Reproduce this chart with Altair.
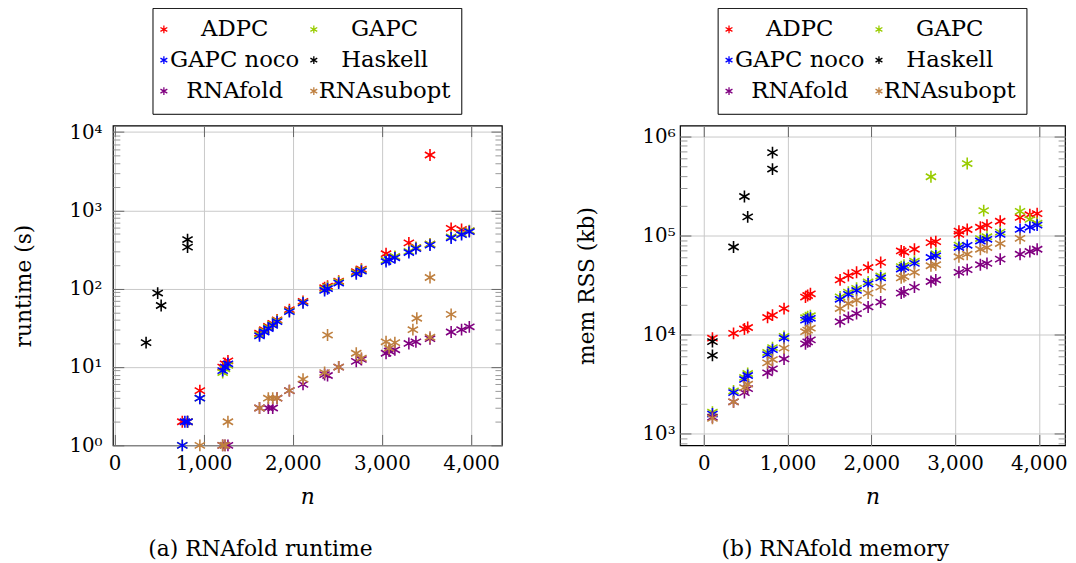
import altair as alt
import pandas as pd

SERIES = ["ADPC", "GAPC", "GAPC noco", "Haskell", "RNAfold", "RNAsubopt"]
COLORS = ["#ff0000", "#99cc00", "#0000ff", "#000000", "#800080", "#bf8040"]

# ---------------- (a) runtime (s) ----------------
rt_adpc_n = [761, 820, 958, 1214, 1240, 1273, 1627, 1680, 1726, 1775, 1824, 1962, 2115, 2357, 2390, 2515,
             2712, 2770, 3046, 3145, 3302, 3381, 3539, 3539, 3776, 3893, 3980]
rt_adpc = [2, 2, 5, 10, 11, 12, 27, 30, 33, 36, 40, 54, 69, 103, 108, 125,
           165, 178, 280, 255, 385, 335, 5100, 370, 590, 570, 548]
rt_gapc_n = [761, 820, 958, 1214, 1240, 1273, 1627, 1680, 1726, 1775, 1824, 1962, 2115, 2357, 2390, 2515,
             2712, 2770, 3046, 3145, 3302, 3381, 3539, 3776, 3893, 3980]
rt_gapc = [1, 2, 4, 8.5, 9.5, 10.5, 26, 29, 32, 35, 39, 52, 67, 98, 104, 122,
           160, 172, 232, 258, 300, 335, 370, 460, 505, 550]
rt_noco_n = [761, 790, 820, 958, 1214, 1240, 1273, 1627, 1680, 1726, 1775, 1824, 1962, 2115, 2357, 2390,
             2515, 2712, 2770, 3046, 3080, 3145, 3302, 3381, 3539, 3776, 3893, 3980]
rt_noco = [1, 2, 2, 4, 9, 10, 11, 25, 28, 31, 34, 38, 51, 66, 95, 100,
           118, 155, 168, 222, 235, 248, 290, 325, 360, 445, 490, 535]
rt_hask_n = [355, 485, 524, 820, 820]
rt_hask = [20.5, 88, 61, 424, 340]
rt_fold_n = [1214, 1240, 1273, 1627, 1726, 1775, 1824, 1962, 2115, 2357, 2390, 2515, 2712, 2770,
             3046, 3080, 3145, 3302, 3381, 3539, 3776, 3893, 3980]
rt_fold = [1, 1, 1, 3, 3, 3, 4, 5, 6, 8, 7.8, 10, 11.8, 12.5,
           15, 16, 16.6, 20, 21, 23, 28, 30, 32.6]
rt_sub_n = [958, 1214, 1240, 1273, 1627, 1726, 1775, 1824, 1962, 2115, 2357, 2390, 2515, 2712, 2770,
            3046, 3080, 3145, 3347, 3391, 3539, 3539, 3776]
rt_sub = [1, 1, 1, 2, 3, 4, 4, 4, 5, 7, 8.5, 25.6, 10, 15, 13,
          21, 17.4, 20.5, 30, 42, 139, 24, 47]

# ---------------- (b) mem RSS (kb) ----------------
mem_adpc_n = [103, 355, 485, 524, 761, 820, 958, 1214, 1240, 1273, 1627, 1726, 1824, 1962, 2112, 2357,
              2390, 2515, 2712, 2770, 3046, 3046, 3145, 3302, 3381, 3539, 3776, 3893, 3980]
mem_adpc = [9200, 10300, 11400, 11800, 14900, 15700, 18300, 23900, 24800, 25800, 35600, 39400, 42500,
            47600, 53500, 69800, 68000, 72600, 84700, 86700, 110700, 102600, 114800, 121000, 127000,
            139000, 152000, 162000, 166000]
mem_gapc_n = [103, 355, 485, 524, 761, 820, 958, 1214, 1240, 1273, 1627, 1726, 1824, 1962, 2112, 2357,
              2390, 2515, 2712, 2770, 3046, 3145, 3302, 3342, 3381, 3539, 3776, 3893, 3980]
mem_gapc = [1650, 2700, 3700, 4050, 6600, 7400, 9600, 14800, 15200, 15500, 24000, 26800, 29300, 34000,
            39000, 48500, 50000, 55000, 391000, 65500, 80000, 531000, 93000, 178000, 97000, 108000,
            175000, 145000, 133000]
mem_noco_n = [103, 355, 485, 524, 761, 820, 958, 1214, 1240, 1273, 1627, 1726, 1824, 1962, 2112, 2357,
              2390, 2515, 2712, 2770, 3046, 3145, 3302, 3381, 3539, 3776, 3893, 3980]
mem_noco = [1580, 2600, 3530, 3870, 6280, 7040, 9200, 14000, 14300, 14600, 22700, 25500, 27900, 32500,
            37300, 45900, 47500, 52300, 60000, 62300, 75500, 79500, 87900, 91400, 102600, 115000,
            121000, 127000]
mem_hask_n = [103, 103, 355, 485, 524, 820, 820]
mem_hask = [8500, 6180, 76500, 247000, 154000, 684000, 467000]
mem_fold_n = [103, 355, 485, 524, 761, 820, 958, 1214, 1240, 1273, 1627, 1726, 1824, 1962, 2112, 2357,
              2390, 2515, 2712, 2770, 3046, 3145, 3302, 3381, 3539, 3776, 3893, 3980]
mem_fold = [1470, 2100, 2600, 2850, 4120, 4520, 5680, 8070, 8450, 8850, 13500, 14900, 16300, 19000,
            21300, 26200, 27000, 30100, 34300, 35600, 42500, 45200, 50700, 52300, 57700, 64700,
            68900, 72600]
mem_sub_n = [103, 355, 485, 524, 761, 820, 958, 1214, 1240, 1273, 1627, 1726, 1824, 1962, 2112, 2357,
             2390, 2515, 2712, 2770, 3046, 3145, 3302, 3381, 3539, 3776]
mem_sub = [1430, 2100, 2920, 3160, 5190, 5600, 7310, 10700, 11100, 11600, 18300, 20600, 22200, 26200,
           30100, 37300, 38500, 42500, 49500, 50700, 61000, 64700, 72600, 75500, 82800, 93500]

# ---------------- ticks ----------------
X_TICKS = [0, 1000, 2000, 3000, 4000]
X_LABELS = ["0", "1,000", "2,000", "3,000", "4,000"]
RT_MAJOR = [1, 10, 100, 1000, 10000]
RT_LABELS = ["10⁰", "10¹", "10²", "10³", "10⁴"]
RT_MINOR = [2, 3, 4, 5, 6, 7, 8, 9, 20, 30, 40, 50, 60, 70, 80, 90,
            200, 300, 400, 500, 600, 700, 800, 900, 2000, 3000, 4000, 5000, 6000, 7000, 8000, 9000]
MEM_MAJOR = [1000, 10000, 100000, 1000000]
MEM_LABELS = ["10³", "10⁴", "10⁵", "10⁶"]
MEM_MINOR = [800, 900, 2000, 3000, 4000, 5000, 6000, 7000, 8000, 9000,
             20000, 30000, 40000, 50000, 60000, 70000, 80000, 90000,
             200000, 300000, 400000, 500000, 600000, 700000, 800000, 900000]

STAR = "M0,-1L0,1M-0.866,-0.5L0.866,0.5M-0.866,0.5L0.866,-0.5"
FONT = "DejaVu Serif"


def frame(parts):
    rows = []
    for name, ns, vs in parts:
        for n, v in zip(ns, vs):
            rows.append({"series": name, "n": n, "v": v})
    return pd.DataFrame(rows)


df_rt = frame([("ADPC", rt_adpc_n, rt_adpc), ("GAPC", rt_gapc_n, rt_gapc),
               ("GAPC noco", rt_noco_n, rt_noco), ("Haskell", rt_hask_n, rt_hask),
               ("RNAfold", rt_fold_n, rt_fold), ("RNAsubopt", rt_sub_n, rt_sub)])
df_mem = frame([("ADPC", mem_adpc_n, mem_adpc), ("GAPC", mem_gapc_n, mem_gapc),
                ("GAPC noco", mem_noco_n, mem_noco), ("Haskell", mem_hask_n, mem_hask),
                ("RNAfold", mem_fold_n, mem_fold), ("RNAsubopt", mem_sub_n, mem_sub)])


def label_expr(vals, labs):
    s = "''"
    for v, lab in reversed(list(zip(vals, labs))):
        s = f"datum.value == {v} ? '{lab}' : ({s})"
    return s


def panel(df, xdom, ydom, W, H, ymaj, ylabs, ymin, ytitle, ylabpad, ytitlepad,
          legx, caption, capdx):
    xs = alt.Scale(domain=xdom, nice=False, zero=False)
    ys = alt.Scale(type="log", domain=ydom, nice=False)
    base = alt.Chart(df)

    def tick_axis(orient, offset, values, size, color):
        return alt.Axis(orient=orient, offset=offset, values=values, tickSize=size,
                        tickColor=color, tickWidth=1, labels=False, domain=False,
                        grid=False, title=None)

    main = base.mark_point(shape=STAR, filled=False, size=144, strokeWidth=1.6, opacity=1).encode(
        x=alt.X("n:Q", scale=xs, axis=alt.Axis(
            values=X_TICKS, labelExpr=label_expr(X_TICKS, X_LABELS), grid=True,
            gridColor="#c8c8c8", gridWidth=1,
            ticks=False, domain=False, labelPadding=8, labelFont=FONT, labelFontSize=20,
            labelFlush=False, labelColor="black",
            title="n", titleFont=FONT, titleFontStyle="italic", titleFontWeight="normal",
            titlePadding=14, titleFontSize=22, titleColor="black")),
        y=alt.Y("v:Q", scale=ys, axis=alt.Axis(
            values=ymaj, labelExpr=label_expr(ymaj, ylabs), grid=True, gridColor="#c8c8c8",
            gridWidth=1, ticks=False, domain=False, labelPadding=ylabpad, labelFont=FONT,
            labelFontSize=20, labelFlush=False, labelColor="black",
            title=ytitle, titleFont=FONT, titleFontWeight="normal", titlePadding=ytitlepad,
            titleFontSize=22, titleColor="black")),
        color=alt.Color("series:N", scale=alt.Scale(domain=SERIES, range=COLORS), title=None,
                        legend=alt.Legend(orient="none", legendX=legx, legendY=-119, columns=2,
                                          direction="horizontal",
                                          symbolType=STAR, symbolSize=64, symbolStrokeWidth=1.3,
                                          symbolOffset=-10,
                                          labelFont=FONT, labelFontSize=23, labelAlign="center",
                                          labelOffset=60, rowPadding=7.3, columnPadding=7.5,
                                          padding=10, strokeColor="black", fillColor="white",
                                          labelColor="black")),
    )
    l2 = base.mark_point(opacity=0).encode(
        x=alt.X("n:Q", scale=xs, axis=tick_axis("top", -H, X_TICKS, 11, "#666666")),
        y=alt.Y("v:Q", scale=ys, axis=tick_axis("right", -W, ymaj, 11, "#666666")))
    l3 = base.mark_point(opacity=0).encode(
        x=alt.X("n:Q", scale=xs, axis=tick_axis("bottom", -H, X_TICKS, 11, "#666666")),
        y=alt.Y("v:Q", scale=ys, axis=tick_axis("right", -W, ymin, 7, "#999999")))
    l4 = base.mark_point(opacity=0).encode(
        x=alt.X("n:Q", scale=xs, axis=None),
        y=alt.Y("v:Q", scale=ys, axis=tick_axis("left", -W, ymaj, 11, "#666666")))
    l5 = base.mark_point(opacity=0).encode(
        x=alt.X("n:Q", scale=xs, axis=None),
        y=alt.Y("v:Q", scale=ys, axis=tick_axis("left", -W, ymin, 7, "#999999")))
    return alt.layer(main, l2, l3, l4, l5).resolve_axis(
        x="independent", y="independent").properties(
        width=W, height=H,
        title=alt.TitleParams(caption, orient="bottom", anchor="middle", frame="bounds",
                              offset=32, dx=capdx, font=FONT, fontSize=22, fontWeight="normal",
                              color="black"))


left = panel(df_rt, [-17, 4345], [1, 12078], 393, 323, RT_MAJOR, RT_LABELS, RT_MINOR,
             "runtime (s)", 11, 34, 40, "(a) RNAfold runtime", 3)
right = panel(df_mem, [-284, 4313], [764, 1280000], 389, 323, MEM_MAJOR, MEM_LABELS, MEM_MINOR,
              "mem RSS (kb)", 5, 44, 38, "(b) RNAfold memory", 14)

chart = alt.hconcat(left, right, spacing=71).resolve_legend(color="independent").resolve_scale(
    color="independent").properties(padding={"left": 3, "top": -5, "right": 0, "bottom": 0}
).configure(font=FONT).configure_view(stroke="black", strokeWidth=1.2).configure_axis(
    labelFont=FONT, titleFont=FONT, labelColor="black", titleColor="black",
    titleFontWeight="normal").configure_legend(labelFont=FONT).configure_title(font=FONT)

chart.save("out.html", embed_options={"renderer": "svg", "actions": False})
